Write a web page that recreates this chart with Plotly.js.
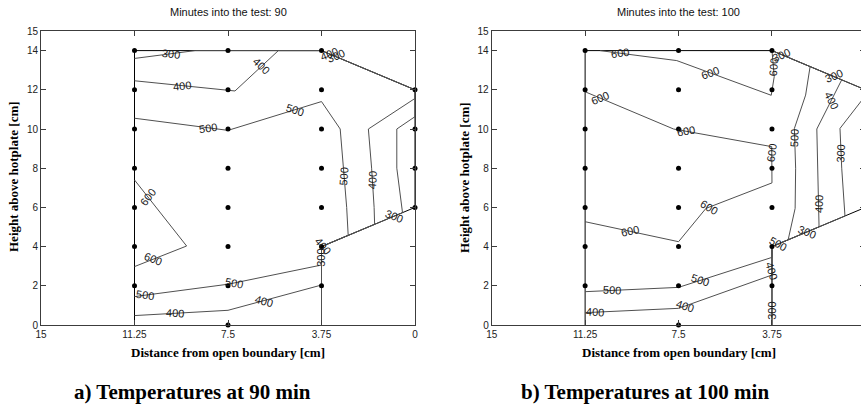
<!DOCTYPE html>
<html>
<head>
<meta charset="utf-8">
<script src="https://cdn.plot.ly/plotly-3.0.1.min.js"></script>
<style>
  html, body { margin: 0; padding: 0; overflow: hidden; background: #fff; }
  #chart { width: 870px; height: 415px; }
</style>
</head>
<body>
<div id="chart"></div>
<script>
// ---------------------------------------------------------------
// Thermocouple positions (cm): one list of heights per column
// ---------------------------------------------------------------
const sensorColumnX = [11.25, 7.5, 3.75, 0];
const sensorColumnY = [
  [2, 4, 6, 8, 10, 12, 14],
  [0, 2, 4, 6, 8, 10, 12, 14],
  [2, 4, 6, 8, 10, 12, 14],
  [6, 8, 10, 12]
];

// Outline of the instrumented region (cm)
const outlineX = [11.25, 11.25, 3.75, 0, 0, 3.75, 3.75];
const outlineY = [0, 14, 14, 12, 6, 4, 0];

// Axis ticks
const xTickValues = [15, 11.25, 7.5, 3.75, 0];
const xTickLabels = ['15', '11.25', '7.5', '3.75', '0'];
const yTickValues = [0, 2, 4, 6, 8, 10, 12, 14, 15];

// ---------------------------------------------------------------
// Isotherms at 90 min (degC) and their traced vertices (cm)
// ---------------------------------------------------------------
const iso90Level = [300, 400, 500, 600];
const iso90X = [
  [11.25, 8.82, 3.75, 0, 0, 0.73, 0.73, 0.53, 0.5, 3.75, 3.75],
  [11.25, 7.22, 5.48, 3.75, 0, 0, 1.87, 1.74, 1.64, 1.62, 3.75, 3.75, 7.5, 11.25],
  [11.25, 7.5, 3.75, 3.0, 2.87, 2.74, 2.68, 3.75, 3.75, 7.5, 11.25],
  [11.25, 9.16, 11.25]
];
const iso90Y = [
  [13.6, 14, 14, 12, 10.63, 10.0, 8.0, 6.0, 5.73, 4.0, 0],
  [12.46, 11.94, 14, 14, 12, 11.56, 10.0, 8.0, 6.0, 5.14, 4.0, 2.04, 0.75, 0.48],
  [10.55, 9.93, 11.4, 10.0, 8.0, 6.0, 4.58, 4.0, 3.06, 2.08, 1.45],
  [7.4, 4.03, 2.98]
];

// ---------------------------------------------------------------
// Isotherms at 100 min (degC) and their traced vertices (cm)
// ---------------------------------------------------------------
const iso100Level = [300, 400, 500, 600, 600];
const iso100X = [
  [3.75, 0, 0, 1.02, 0.95, 0.82, 3.75, 3.75],
  [3.75, 0.95, 1.95, 1.92, 1.88, 1.86, 3.75, 3.75, 7.5, 11.25],
  [2.22, 2.4, 2.85, 2.8, 2.82, 3.1, 3.75, 3.75, 7.5, 11.25],
  [10.65, 7.57, 3.78, 3.66, 3.75],
  [11.25, 7.7, 3.76, 3.75, 6.4, 7.5, 11.25]
];
const iso100Y = [
  [14, 12, 11.7, 10.03, 8.0, 5.56, 4.0, 0],
  [14, 12.51, 10.0, 8.0, 5.95, 5.01, 4.0, 2.55, 0.85, 0.63],
  [13.18, 11.73, 10.03, 8.0, 5.95, 4.35, 4.0, 3.45, 1.92, 1.7],
  [14, 13.49, 11.72, 12.67, 14],
  [11.9, 10.0, 9.1, 7.25, 5.95, 4.25, 5.27]
];

// Inline label spots: [isotherm index, segment index, fraction along segment]
const labelSpots90 = [
  [0, 0, 0.61], [0, 2, 0.15], [0, 8, 0.11], [0, 9, 0.15],
  [1, 0, 0.47], [1, 1, 0.61], [1, 3, 0.08], [1, 7, 0.30], [1, 9, 0.97], [1, 11, 0.62], [1, 12, 0.57],
  [2, 0, 0.79], [2, 1, 0.72], [2, 4, 0.21], [2, 8, 0.94], [2, 9, 0.89],
  [3, 0, 0.26], [3, 1, 0.64]
];
const labelSpots100 = [
  [0, 0, 0.10], [0, 0, 0.66], [0, 3, 0.63], [0, 5, 0.52], [0, 6, 0.82],
  [1, 1, 0.41], [1, 3, 0.88], [1, 6, 0.85], [1, 7, 0.93], [1, 8, 0.89],
  [2, 2, 0.25], [2, 5, 0.60], [2, 7, 0.77], [2, 8, 0.71],
  [3, 0, 0.26], [3, 1, 0.35], [3, 3, 0.38],
  [4, 0, 0.17], [4, 1, 0.13], [4, 2, 0.18], [4, 3, 0.96], [4, 5, 0.52]
];

// ---------------------------------------------------------------
// Page geometry (the right panel runs past the page edge)
// ---------------------------------------------------------------
const W = 870, H = 415;
const leftPx = [41, 415], rightPx = [491.7, 865.4], vertPx = [31, 325];
const xDomainA = [leftPx[0] / W, leftPx[1] / W];
const xDomainB = [rightPx[0] / W, rightPx[1] / W];
const yDomain = [(H - vertPx[1]) / H, (H - vertPx[0]) / H];
const pxPerX = (leftPx[1] - leftPx[0]) / 15;
const pxPerY = (vertPx[1] - vertPx[0]) / 15;

const AXIS_COL = '#3c3c3c';
const LINE_COL = '#505050';
const sansFont = 'Liberation Sans, Arial, sans-serif';
const serifFont = 'Liberation Serif, Times New Roman, serif';

// Position and rotation of a contour label placed along a polyline.
// The rotation follows the chord across the label width, measured as
// if the x axis ran left to right (as the original plotting tool does).
function placeLabel(xs, ys, seg, frac) {
  const P = xs.map((x, i) => [x * pxPerX, ys[i] * pxPerY]);
  const cum = [0];
  for (let i = 1; i < P.length; i++) {
    cum.push(cum[i - 1] + Math.hypot(P[i][0] - P[i - 1][0], P[i][1] - P[i - 1][1]));
  }
  const total = cum[cum.length - 1];
  function at(s) {
    s = Math.max(0, Math.min(total, s));
    let i = 1;
    while (i < cum.length - 1 && cum[i] < s) i++;
    const L = cum[i] - cum[i - 1] || 1;
    const t = (s - cum[i - 1]) / L;
    return [xs[i - 1] + t * (xs[i] - xs[i - 1]), ys[i - 1] + t * (ys[i] - ys[i - 1])];
  }
  const s = cum[seg] + frac * (cum[seg + 1] - cum[seg]);
  const c = at(s), a = at(s - 9), b = at(s + 9);
  let ang = Math.atan2((b[1] - a[1]) * pxPerY, (b[0] - a[0]) * pxPerX) * 180 / Math.PI;
  while (ang > 90) ang -= 180;
  while (ang <= -90) ang += 180;
  return { x: c[0], y: c[1], angle: -ang };
}

const traces = [];
const annotations = [];

function buildPanel(levels, X, Y, spots, xa, ya) {
  // region outline
  traces.push({
    type: 'scatter', mode: 'lines', x: outlineX, y: outlineY, xaxis: xa, yaxis: ya,
    line: { color: '#000', width: 1 }, hoverinfo: 'skip', showlegend: false
  });
  // isotherms
  levels.forEach((lv, k) => {
    traces.push({
      type: 'scatter', mode: 'lines', x: X[k], y: Y[k], xaxis: xa, yaxis: ya,
      line: { color: LINE_COL, width: 1 }, hoverinfo: 'skip', showlegend: false
    });
  });
  // thermocouples
  const sx = [], sy = [];
  sensorColumnX.forEach((cx, i) => sensorColumnY[i].forEach(cy => { sx.push(cx); sy.push(cy); }));
  traces.push({
    type: 'scatter', mode: 'markers', x: sx, y: sy, xaxis: xa, yaxis: ya,
    marker: { color: '#000', size: 5 }, hoverinfo: 'skip', showlegend: false, cliponaxis: false
  });
  // inline labels
  spots.forEach(([k, seg, frac]) => {
    const p = placeLabel(X[k], Y[k], seg, frac);
    annotations.push({
      xref: xa, yref: ya, x: p.x, y: p.y, text: String(levels[k]),
      textangle: p.angle, showarrow: false, xanchor: 'center', yanchor: 'middle',
      font: { family: sansFont, size: 11, color: '#1a1a1a' }
    });
  });
}

buildPanel(iso90Level, iso90X, iso90Y, labelSpots90, 'x', 'y');
buildPanel(iso100Level, iso100X, iso100Y, labelSpots100, 'x2', 'y2');

function xAxis(domain, anchor, tickText) {
  return {
    domain: domain, anchor: anchor, range: [15, 0], tickmode: 'array',
    tickvals: xTickValues, ticktext: tickText, ticks: 'inside', ticklen: 5,
    tickcolor: AXIS_COL, showline: true, linecolor: AXIS_COL, linewidth: 1,
    mirror: 'ticks', showgrid: false, zeroline: false,
    tickfont: { family: sansFont, size: 10, color: '#222' }
  };
}
function yAxis(anchor) {
  return {
    domain: yDomain, anchor: anchor, range: [0, 15], tickmode: 'array',
    tickvals: yTickValues, ticks: 'inside', ticklen: 5,
    tickcolor: AXIS_COL, showline: true, linecolor: AXIS_COL, linewidth: 1,
    mirror: 'ticks', showgrid: false, zeroline: false,
    tickfont: { family: sansFont, size: 10, color: '#222' }
  };
}

// the right panel's last tick label sits beyond the page edge
const xTickLabelsB = xTickLabels.map((t, i) => (i === xTickLabels.length - 1 ? '' : t));

const titleY = (H - 12) / H;
const xTitleY = (H - 352) / H;
const yTitleMid = (H - 177) / H;
const captionY = (H - 392) / H;

const textNotes = [
  { x: (leftPx[0] + leftPx[1]) / 2 / W, y: titleY, text: 'Minutes into the test: 90', font: { family: sansFont, size: 11, color: '#111' } },
  { x: (rightPx[0] + rightPx[1]) / 2 / W, y: titleY, text: 'Minutes into the test: 100', font: { family: sansFont, size: 11, color: '#111' } },
  { x: (leftPx[0] + leftPx[1]) / 2 / W, y: xTitleY, text: '<b>Distance from open boundary [cm]</b>', font: { family: serifFont, size: 13, color: '#000' } },
  { x: (rightPx[0] + rightPx[1]) / 2 / W, y: xTitleY, text: '<b>Distance from open boundary [cm]</b>', font: { family: serifFont, size: 13, color: '#000' } },
  { x: 14 / W, y: yTitleMid, text: '<b>Height above hotplate [cm]</b>', textangle: -90, font: { family: serifFont, size: 13, color: '#000' } },
  { x: 465 / W, y: yTitleMid, text: '<b>Height above hotplate [cm]</b>', textangle: -90, font: { family: serifFont, size: 13, color: '#000' } },
  { x: 192 / W, y: captionY, text: '<b>a) Temperatures at 90 min</b>', font: { family: serifFont, size: 21, color: '#000' } },
  { x: 645 / W, y: captionY, text: '<b>b) Temperatures at 100 min</b>', font: { family: serifFont, size: 21, color: '#000' } }
];
textNotes.forEach(n => annotations.push(Object.assign({
  xref: 'paper', yref: 'paper', showarrow: false, xanchor: 'center', yanchor: 'middle'
}, n)));

const layout = {
  width: W, height: H,
  margin: { l: 0, r: 0, t: 0, b: 0 },
  paper_bgcolor: '#fff', plot_bgcolor: '#fff',
  showlegend: false,
  xaxis: xAxis(xDomainA, 'y', xTickLabels),
  yaxis: yAxis('x'),
  xaxis2: xAxis(xDomainB, 'y2', xTickLabelsB),
  yaxis2: yAxis('x2'),
  annotations: annotations
};

Plotly.newPlot('chart', traces, layout, { staticPlot: true, displayModeBar: false });
</script>
</body>
</html>
